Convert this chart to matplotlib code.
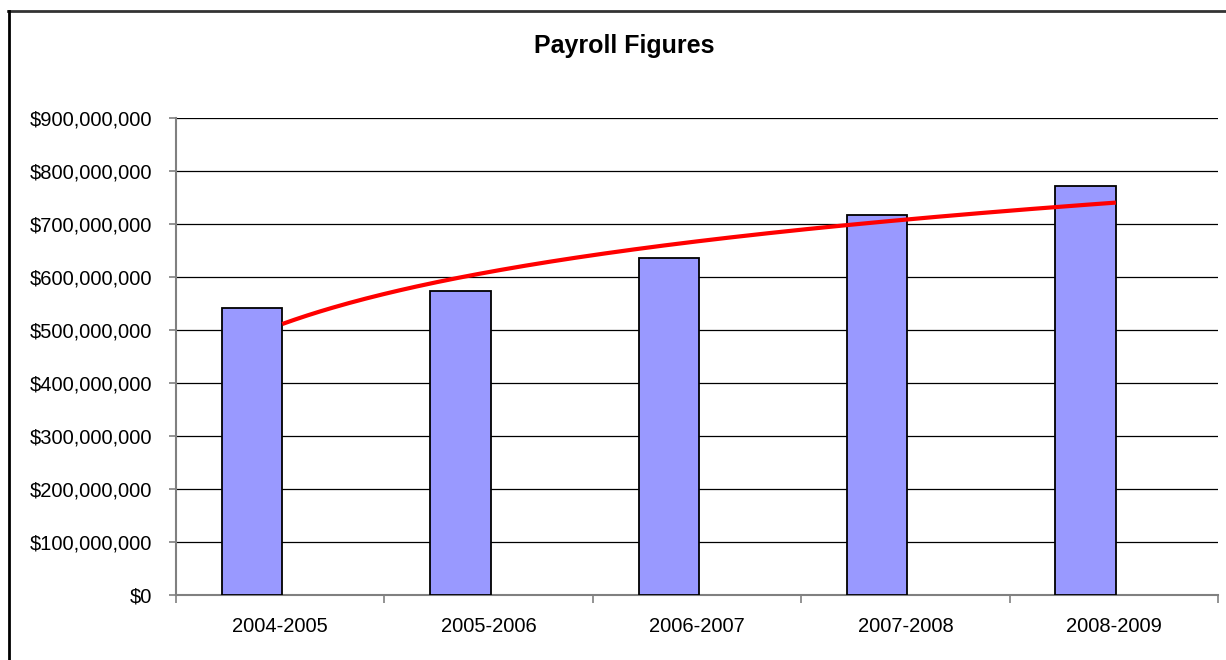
import numpy as np
import matplotlib
matplotlib.use("Agg")
import matplotlib.pyplot as plt
from matplotlib.ticker import FuncFormatter, FixedLocator
from matplotlib.lines import Line2D

categories = ["2004-2005", "2005-2006", "2006-2007", "2007-2008", "2008-2009"]
payroll = [541e6, 574e6, 635e6, 717e6, 771e6]
y_ticks = [0, 100e6, 200e6, 300e6, 400e6, 500e6, 600e6, 700e6, 800e6, 900e6]

plt.rcParams['font.family'] = ['Liberation Sans', 'DejaVu Sans']

W, H = 1226, 660
fig = plt.figure(figsize=(W / 100, H / 100), dpi=100)
ax = fig.add_axes([176 / W, 1 - 595 / H, 1042 / W, 477 / H])

x = np.arange(len(categories))
bw = 0.29
ax.bar(x - 0.135, payroll, width=bw, color="#9999FF", edgecolor="black", linewidth=1.3, zorder=3)

# logarithmic trendline fitted to the data
t = x + 1
a, b = np.polyfit(np.log(t), payroll, 1)
tt = np.linspace(1, len(categories), 200)
ax.plot(tt - 1 + 0.01, a * np.log(tt) + b, color="red", lw=3, zorder=4, solid_capstyle="butt")

ax.set_xlim(-0.5, len(categories) - 0.5)
ax.set_ylim(0, 900e6)
ax.set_yticks(y_ticks)
ax.yaxis.set_major_formatter(FuncFormatter(lambda v, p: "$0" if v == 0 else "${:,.0f}".format(v)))
ax.grid(axis="y", color="black", lw=0.9, zorder=0)
ax.set_axisbelow(True)

ax.set_xticks(x)
ax.set_xticklabels(categories)
ax.xaxis.set_minor_locator(FixedLocator(np.arange(-0.5, len(categories), 1.0)))
ax.tick_params(axis="x", which="major", length=0, pad=16, labelsize=14.5)
ax.tick_params(axis="x", which="minor", length=6, direction="out", color="#808080", width=1.2)
ax.tick_params(axis="y", length=5, direction="out", color="#808080", width=1.2, labelsize=14.5, pad=12)

for s in ["top", "right"]:
    ax.spines[s].set_visible(False)
ax.spines["left"].set_color("#808080")
ax.spines["left"].set_linewidth(1.5)
ax.spines["bottom"].set_color("#808080")
ax.spines["bottom"].set_linewidth(1.5)

fig.text(624 / W, 1 - 46 / H, "Payroll Figures", ha="center", va="center",
         fontsize=18, fontweight="bold")

# outer chart border
fig.add_artist(Line2D([8 / W, 1], [1 - 10.5 / H, 1 - 10.5 / H], transform=fig.transFigure,
                      color="#333333", lw=2))
fig.add_artist(Line2D([8.5 / W, 8.5 / W], [0, 1 - 10.5 / H], transform=fig.transFigure,
                      color="black", lw=2))

fig.savefig("out.png", dpi=100)
